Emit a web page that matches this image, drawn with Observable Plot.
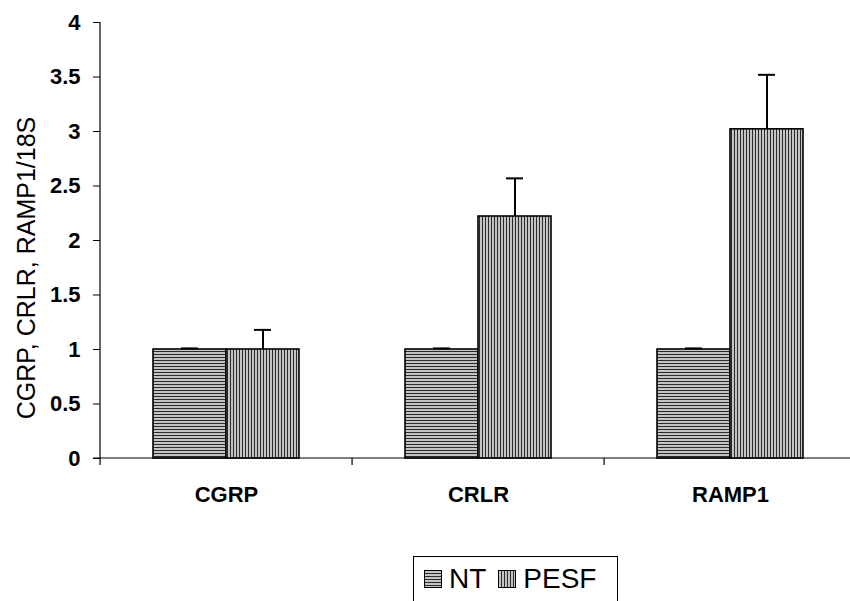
<!DOCTYPE html>
<html>
<head>
<meta charset="utf-8">
<script src="https://cdn.jsdelivr.net/npm/d3@7"></script>
<script src="https://cdn.jsdelivr.net/npm/@observablehq/plot@0.6"></script>
<style>
  html, body { margin: 0; padding: 0; background: #fff; overflow: hidden; }
  #chart svg { display: block; overflow: hidden; }
  #legend {
    position: absolute; left: 413px; top: 556px; width: 205px; height: 60px;
    border: 1px solid #000; box-sizing: border-box; background: #fff;
    font-family: Arial, "Liberation Sans", sans-serif; font-size: 28px; color: #000;
    display: flex; align-items: flex-start; padding: 6px 0 0 10px;
  }
  #legend .item { display: flex; align-items: center; margin-right: 12px; line-height: 32px; }
  #legend svg { margin-right: 7px; }
</style>
</head>
<body>
<div id="chart"></div>
<div id="legend"></div>
<script>
const categories = ["CGRP", "CRLR", "RAMP1"];
const series = ["NT", "PESF"];
const ntValues = [1.0, 1.0, 1.0];
const ntErrors = [0.01, 0.01, 0.01];
const pesfValues = [1.0, 2.22, 3.02];
const pesfErrors = [0.18, 0.35, 0.50];
const yTicks = [0, 0.5, 1, 1.5, 2, 2.5, 3, 3.5, 4];
const yTickLabels = ["0", "0.5", "1", "1.5", "2", "2.5", "3", "3.5", "4"];
const yTitle = "CGRP, CRLR, RAMP1/18S";

const seriesValues = {NT: ntValues, PESF: pesfValues};
const seriesErrors = {NT: ntErrors, PESF: pesfErrors};
const patternIds = {NT: "pat-h", PESF: "pat-v"};

const rows = [];
categories.forEach((c, i) => {
  series.forEach(s => {
    rows.push({category: c, series: s, value: seriesValues[s][i], err: seriesErrors[s][i]});
  });
});

const font = "Arial, 'Liberation Sans', sans-serif";

const chart = Plot.plot({
  width: 850,
  height: 535,
  marginTop: 22,
  marginLeft: 100,
  marginRight: -6,
  marginBottom: 77,
  style: {fontFamily: font, background: "#fff"},
  fx: {domain: categories, paddingInner: 0.42, paddingOuter: 0.21, label: null},
  x: {domain: series, padding: 0, axis: null},
  y: {domain: [0, 4], label: null},
  marks: [
    Plot.axisY({
      ticks: yTicks,
      tickFormat: d => yTickLabels[yTicks.indexOf(d)],
      tickSize: 7,
      tickPadding: 13,
      fontSize: 22,
      fontWeight: "bold",
      label: null
    }),
    Plot.axisFx({
      anchor: "bottom",
      tickSize: 0,
      tickPadding: 28,
      fontSize: 22,
      fontWeight: "bold",
      label: null
    }),
    Plot.barY(rows, {
      fx: "category",
      x: "series",
      y: "value",
      fill: d => `url(#${patternIds[d.series]})`,
      stroke: "#000",
      strokeWidth: 1.6
    }),
    Plot.ruleX(rows, {
      fx: "category",
      x: "series",
      y1: "value",
      y2: d => d.value + d.err,
      stroke: "#000",
      strokeWidth: 2
    }),
    Plot.tickY(rows, {
      fx: "category",
      x: "series",
      y: d => d.value + d.err,
      stroke: "#000",
      strokeWidth: 2,
      insetLeft: 28,
      insetRight: 28
    })
  ]
});

document.getElementById("chart").appendChild(chart);

const svg = d3.select(chart);
const defs = svg.insert("defs", ":first-child");
function addPattern(id, horizontal) {
  const p = defs.append("pattern")
    .attr("id", id).attr("patternUnits", "userSpaceOnUse")
    .attr("width", 3).attr("height", 3);
  p.append("rect").attr("width", 3).attr("height", 3).attr("fill", "#c4c4c4");
  if (horizontal) p.append("rect").attr("width", 3).attr("height", 1).attr("fill", "#2a2a2a");
  else p.append("rect").attr("width", 1).attr("height", 3).attr("fill", "#2a2a2a");
}
addPattern("pat-h", true);
addPattern("pat-v", false);

const ys = chart.scale("y");
const fxs = chart.scale("fx");
const y0 = ys.apply(0);
const y4 = ys.apply(4);
const x0 = 100;
const step = fxs.step;
const firstBandStart = fxs.apply(categories[0]);
const firstBand = firstBandStart - fxs.paddingOuter * step;

svg.selectAll('g[aria-label="y-axis tick"], g[aria-label="y-axis tick label"]')
  .attr("transform", function() {
    const t = d3.select(this).attr("transform") || "";
    return `translate(${x0 - firstBandStart},0) ` + t;
  });

const g = svg.append("g").attr("stroke", "#000").attr("stroke-width", 1.2);
g.append("line").attr("x1", x0).attr("x2", x0).attr("y1", y4).attr("y2", y0);
g.append("line").attr("x1", x0 - 7).attr("x2", 850).attr("y1", y0).attr("y2", y0);
d3.range(categories.length + 1).forEach(i => {
  const bx = firstBand + i * step;
  g.append("line").attr("x1", bx).attr("x2", bx).attr("y1", y0).attr("y2", y0 + 7);
});

svg.append("text")
  .attr("transform", `translate(35,${(y4 + y0) / 2 + 28}) rotate(-90)`)
  .attr("text-anchor", "middle")
  .attr("font-family", font)
  .attr("font-size", 25)
  .attr("fill", "#000")
  .text(yTitle);

const legend = d3.select("#legend");
series.forEach(s => {
  const item = legend.append("div").attr("class", "item");
  const sw = item.append("svg").attr("width", 18).attr("height", 18);
  sw.append("rect").attr("x", 0.5).attr("y", 0.5).attr("width", 17).attr("height", 17)
    .attr("fill", `url(#${patternIds[s]})`).attr("stroke", "#000");
  item.append("span").text(s);
});
</script>
</body>
</html>
